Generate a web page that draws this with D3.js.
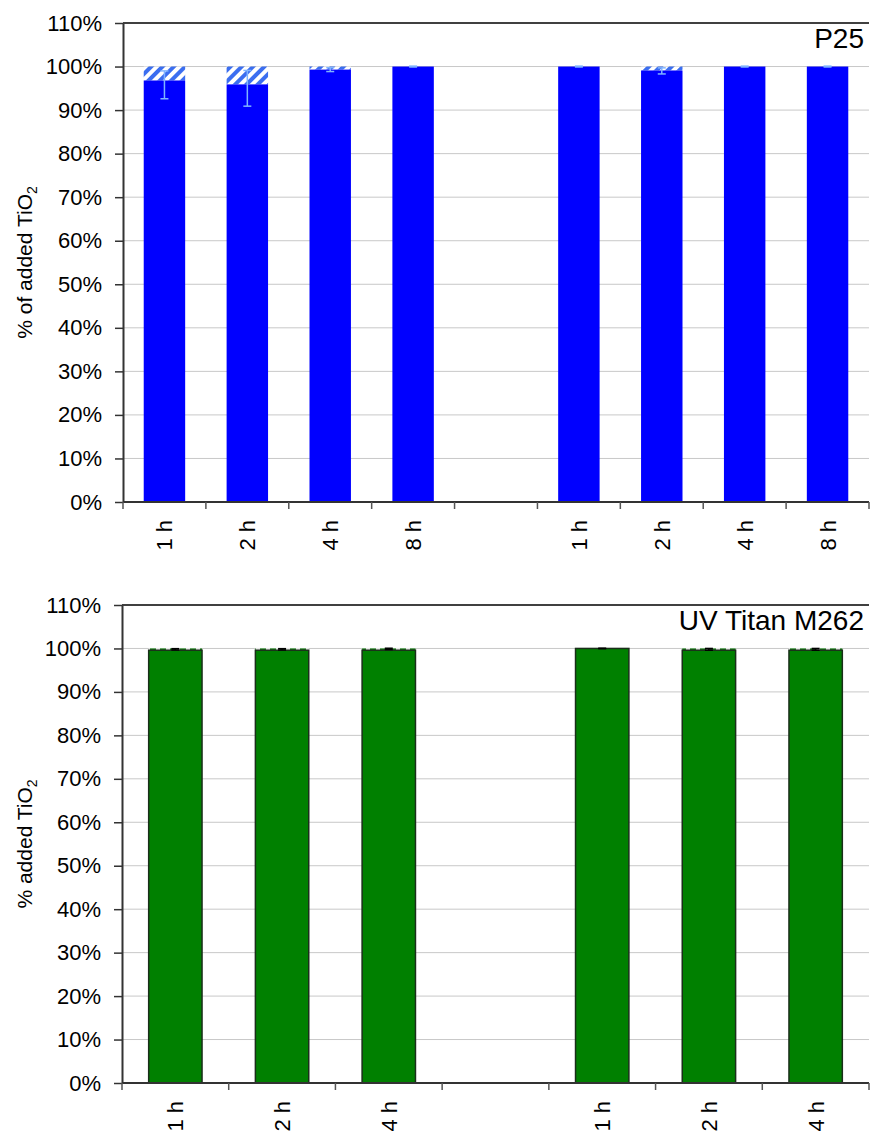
<!DOCTYPE html>
<html><head><meta charset="utf-8">
<script src="https://cdn.jsdelivr.net/npm/d3@7"></script>
<style>body{margin:0;background:#fff;} text{font-family:"Liberation Sans",Arial,sans-serif;}</style>
</head><body>
<svg id="c" width="870" height="1135"></svg>
<script>
// ---- data ----
const yTicks = [0,10,20,30,40,50,60,70,80,90,100,110];

const p25Categories = ["1 h","2 h","4 h","8 h","","1 h","2 h","4 h","8 h"];
const p25Solid      = [96.8, 95.9, 99.3, 100, null, 100, 99.1, 100, 100];
const p25Total      = [100, 100, 100, 100, null, 100, 100, 100, 100];
const p25ErrMean    = [95.8, 95.0, 99.3, 100, null, 100, 99.0, 100, 100];
const p25ErrSize    = [3.2, 4.1, 0.45, 0.1, null, 0.1, 0.7, 0.1, 0.1];

const uvCategories = ["1 h","2 h","4 h","","1 h","2 h","4 h"];
const uvSolid      = [99.6, 99.6, 99.6, null, 100, 99.6, 99.6];
const uvTotal      = [100, 100, 100, null, 100, 100, 100];
const uvErrMean    = [99.8, 99.8, 99.9, null, 100, 99.8, 99.8];
const uvErrSize    = [0.15, 0.15, 0.15, null, 0.05, 0.2, 0.2];

const svg = d3.select("#c");
const defs = svg.append("defs");
const hb = defs.append("pattern").attr("id","hatchBlue").attr("patternUnits","userSpaceOnUse")
  .attr("width",8).attr("height",8).attr("patternTransform","rotate(45)");
hb.append("rect").attr("width",8).attr("height",8).attr("fill","#ffffff");
hb.append("rect").attr("width",4).attr("height",8).attr("fill","#3b6ef0");
const hg = defs.append("pattern").attr("id","hatchGreen").attr("patternUnits","userSpaceOnUse")
  .attr("width",10).attr("height",4);
hg.append("rect").attr("width",10).attr("height",4).attr("fill","#ffffff");
hg.append("rect").attr("width",6).attr("height",4).attr("fill","#1a8a1a");

function drawChart(o){
  const g = svg.append("g");
  const x = d3.scaleBand().domain(o.cats.map((d,i)=>i)).range([o.left,o.right]).paddingInner(0).paddingOuter(0);
  const y = d3.scaleLinear().domain([0,110]).range([o.bottom,o.top]);
  // grid
  g.selectAll(".grid").data(yTicks.filter(t=>t>0 && t<110)).enter().append("line")
    .attr("x1",o.left).attr("x2",o.right).attr("y1",d=>y(d)).attr("y2",d=>y(d))
    .attr("stroke","#c8c8c8").attr("stroke-width",1);
  // top border
  g.append("line").attr("x1",o.left).attr("x2",o.right).attr("y1",y(110)).attr("y2",y(110))
    .attr("stroke","#404040").attr("stroke-width",2);
  const bw = x.bandwidth()*0.5;
  const idx = o.cats.map((d,i)=>i).filter(i=>o.solid[i]!==null);
  // hatched part
  g.selectAll(".hatch").data(idx).enter().append("rect")
    .attr("x",i=>x(i)+x.bandwidth()/2-bw/2).attr("width",bw)
    .attr("y",i=>y(o.total[i])).attr("height",i=>Math.max(0,y(o.solid[i])-y(o.total[i])))
    .attr("fill",o.hatch);
  // solid part
  g.selectAll(".solid").data(idx).enter().append("rect")
    .attr("x",i=>x(i)+x.bandwidth()/2-bw/2).attr("width",bw)
    .attr("y",i=>y(o.solid[i])).attr("height",i=>y(0)-y(o.solid[i]))
    .attr("fill",o.color).attr("stroke",o.stroke).attr("stroke-width",o.stroke==="none"?0:1.5);
  // error bars
  const eg = g.selectAll(".err").data(idx).enter().append("g");
  eg.append("line").attr("x1",i=>x(i)+x.bandwidth()/2).attr("x2",i=>x(i)+x.bandwidth()/2)
    .attr("y1",i=>y(o.em[i]+o.es[i])).attr("y2",i=>y(o.em[i]-o.es[i]))
    .attr("stroke",o.errColor).attr("stroke-width",1.5);
  [1,-1].forEach(s=>{
    eg.append("line").attr("x1",i=>x(i)+x.bandwidth()/2-4).attr("x2",i=>x(i)+x.bandwidth()/2+4)
      .attr("y1",i=>y(o.em[i]+s*o.es[i])).attr("y2",i=>y(o.em[i]+s*o.es[i]))
      .attr("stroke",o.errColor).attr("stroke-width",1.5);
  });
  // y axis
  const ya = g.append("g").attr("transform",`translate(${o.left},0)`)
    .call(d3.axisLeft(y).tickValues(yTicks).tickFormat(d=>d+"%").tickSize(8).tickSizeOuter(0));
  ya.select(".domain").attr("stroke","#333").attr("stroke-width",2);
  ya.selectAll(".tick line").attr("stroke","#333").attr("stroke-width",1.5);
  ya.selectAll(".tick text").attr("font-size",22).attr("fill","#000").attr("x",-21)
    .attr("font-family","Liberation Sans, Arial, sans-serif");
  // x axis
  g.append("line").attr("x1",o.left).attr("x2",o.right).attr("y1",y(0)).attr("y2",y(0))
    .attr("stroke","#333").attr("stroke-width",2);
  const bounds = d3.range(o.cats.length+1).map(i=> i<o.cats.length ? x(i) : o.right);
  g.selectAll(".xt").data(bounds).enter().append("line")
    .attr("x1",d=>d).attr("x2",d=>d).attr("y1",y(0)).attr("y2",y(0)+7)
    .attr("stroke","#555").attr("stroke-width",1.5);
  g.selectAll(".xl").data(o.cats.map((d,i)=>i)).enter().append("text")
    .attr("transform",i=>`translate(${x(i)+x.bandwidth()/2+8},${y(0)+18}) rotate(-90)`)
    .attr("text-anchor","end").attr("font-size",22).attr("fill","#000")
    .text(i=>o.cats[i]);
  // title
  g.append("text").attr("x",o.right-5).attr("y",o.top+25).attr("text-anchor","end")
    .attr("font-size",28).attr("fill","#000").text(o.title);
  // y label
  const yl = g.append("text").attr("transform",`translate(32,${(o.top+o.bottom)/2}) rotate(-90)`)
    .attr("text-anchor","middle").attr("font-size",21).attr("fill","#000");
  yl.append("tspan").text(o.ylabel);
  yl.append("tspan").attr("font-size",14).attr("dy",5).text("2");
}

drawChart({cats:p25Categories, solid:p25Solid, total:p25Total, em:p25ErrMean, es:p25ErrSize,
  left:123, right:869, top:23, bottom:502, color:"#0000ff", stroke:"none", hatch:"url(#hatchBlue)",
  errColor:"#80b4ff", title:"P25", ylabel:"% of added TiO"});
drawChart({cats:uvCategories, solid:uvSolid, total:uvTotal, em:uvErrMean, es:uvErrSize,
  left:122, right:869, top:605, bottom:1083, color:"#008000", stroke:"#1a2e1a", hatch:"url(#hatchGreen)",
  errColor:"#000", title:"UV Titan M262", ylabel:"% added TiO"});
</script>
</body></html>
